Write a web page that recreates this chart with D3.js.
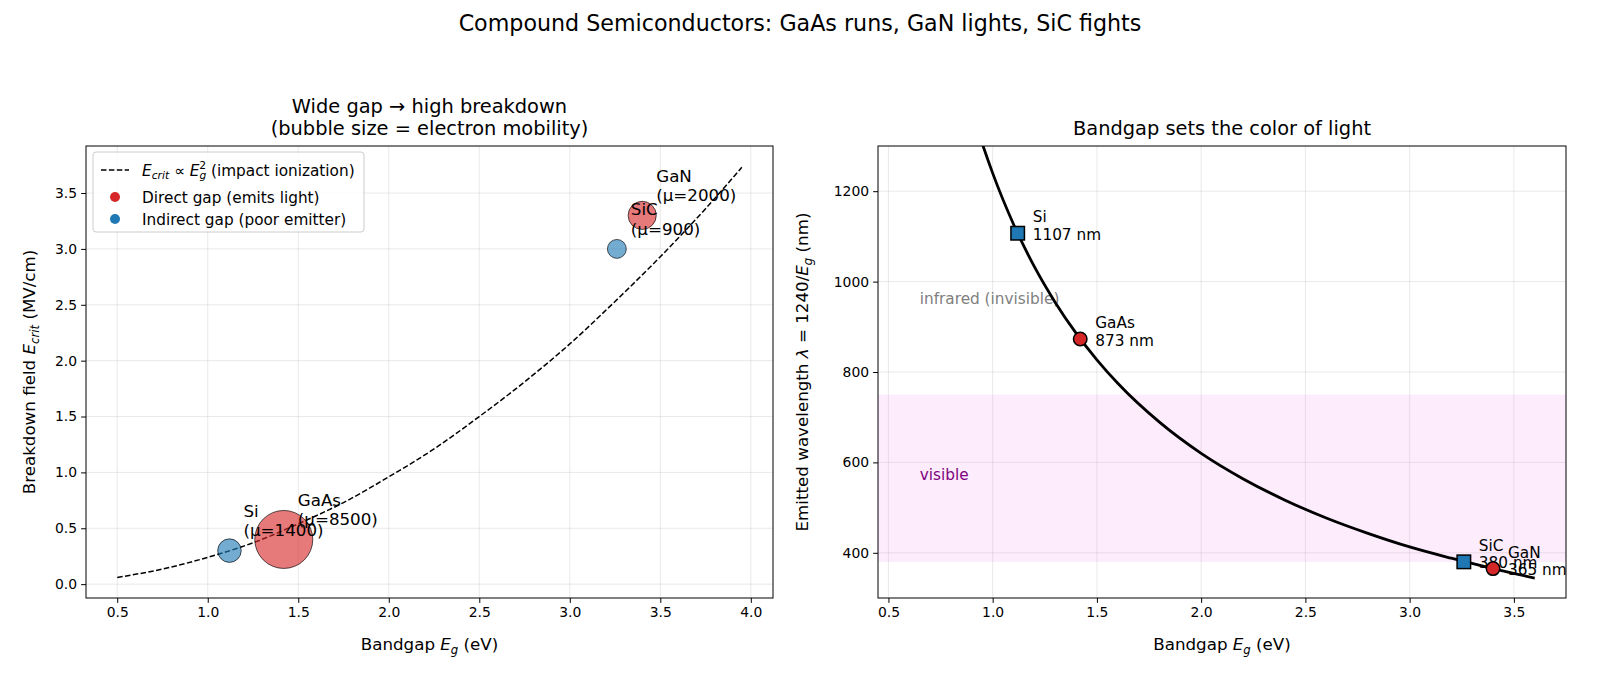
<!DOCTYPE html>
<html>
<head>
<meta charset="utf-8">
<script src="https://cdn.jsdelivr.net/npm/d3@7"></script>
<style>
  body { margin: 0; background: #fff; }
  text { font-family: "DejaVu Sans", sans-serif; fill: #000; }
</style>
</head>
<body>
<svg id="fig" width="1600" height="677"></svg>
<script>
// ---- data ----
const materials = ['Si', 'GaAs', 'SiC', 'GaN'];
const bandgap = [1.12, 1.42, 3.26, 3.40];        // eV
const breakdown = [0.3, 0.4, 3.0, 3.3];          // MV/cm
const mobility = [1400, 8500, 900, 2000];        // cm2/Vs
const isDirect = [false, true, false, true];
const wavelength = [1107, 873, 380, 365];        // nm

// dashed E_crit ~ Eg^2 trend
const trendEg = [0.5, 0.75, 1.0, 1.25, 1.5, 1.75, 2.0, 2.25, 2.5, 2.75, 3.0, 3.25, 3.5, 3.75, 3.95];
const trendE = [0.06, 0.135, 0.24, 0.37, 0.54, 0.73, 0.96, 1.21, 1.50, 1.81, 2.15, 2.53, 2.93, 3.36, 3.73];

// lambda = 1240/Eg curve
const lamEg = [0.6, 0.8, 0.9, 1.0, 1.1, 1.2, 1.3, 1.4, 1.5, 1.6, 1.8, 2.0, 2.2, 2.4, 2.6, 2.8, 3.0, 3.2, 3.4, 3.6];
const lamNm = [2067, 1550, 1378, 1240, 1127, 1033, 954, 886, 827, 775, 689, 620, 564, 517, 477, 443, 413, 388, 365, 344];

const visibleBand = [380, 750];
const xTicksLeft = [0.5, 1.0, 1.5, 2.0, 2.5, 3.0, 3.5, 4.0];
const yTicksLeft = [0.0, 0.5, 1.0, 1.5, 2.0, 2.5, 3.0, 3.5];
const xTicksRight = [0.5, 1.0, 1.5, 2.0, 2.5, 3.0, 3.5];
const yTicksRight = [400, 600, 800, 1000, 1200];

const RED = '#d62728', BLUE = '#1f77b4';
const FS_TICK = 13.9, FS_LABEL = 16.7, FS_TITLE = 19.4, FS_SMALL = 15.3;

const svg = d3.select('#fig');
svg.append('rect').attr('width', 1600).attr('height', 677).attr('fill', '#fff');

// rich text helper: italic / sub / sup pieces
function rich(sel, parts, fs) {
    let shift = 0;
    parts.forEach(p => {
        const ts = sel.append('tspan').text(p.t);
        let target = 0;
        if (p.sub) target = 0.22 * fs;
        if (p.sup) target = -0.42 * fs;
        if (target - shift !== 0) ts.attr('dy', target - shift);
        shift = target;
        if (p.sub || p.sup) ts.attr('font-size', fs * 0.7);
        if (p.i) ts.attr('font-style', 'italic');
        if (p.dx) ts.attr('dx', p.dx);
    });
}

function drawAxes(box, x, y, xt, yt, xf, yf, id) {
    const g = svg.append('g');
    // grid
    g.append('g').selectAll('line').data(xt).enter().append('line')
        .attr('x1', d => x(d)).attr('x2', d => x(d))
        .attr('y1', box.y0).attr('y2', box.y1)
        .attr('stroke', '#b0b0b0').attr('stroke-opacity', 0.35).attr('stroke-width', 0.8);
    g.append('g').selectAll('line').data(yt).enter().append('line')
        .attr('y1', d => y(d)).attr('y2', d => y(d))
        .attr('x1', box.x0).attr('x2', box.x1)
        .attr('stroke', '#b0b0b0').attr('stroke-opacity', 0.35).attr('stroke-width', 0.8);

    svg.append('clipPath').attr('id', id)
        .append('rect').attr('x', box.x0).attr('y', box.y0)
        .attr('width', box.x1 - box.x0).attr('height', box.y1 - box.y0);

    const ax = svg.append('g').attr('transform', `translate(0,${box.y1})`)
        .call(d3.axisBottom(x).tickValues(xt).tickFormat(xf).tickSize(4.9).tickPadding(4));
    const ay = svg.append('g').attr('transform', `translate(${box.x0},0)`)
        .call(d3.axisLeft(y).tickValues(yt).tickFormat(yf).tickSize(4.9).tickPadding(4));
    [ax, ay].forEach(a => {
        a.select('.domain').remove();
        a.attr('font-family', null).attr('font-size', null);
        a.selectAll('line').attr('stroke', '#000').attr('stroke-width', 1);
        a.selectAll('text').attr('font-size', FS_TICK).attr('fill', '#000');
    });
    return g;
}

function drawFrame(box) {
    svg.append('rect').attr('x', box.x0).attr('y', box.y0)
        .attr('width', box.x1 - box.x0).attr('height', box.y1 - box.y0)
        .attr('fill', 'none').attr('stroke', '#000').attr('stroke-width', 1);
}

// ---------- left panel ----------
const L = { x0: 86, x1: 773, y0: 146, y1: 598 };
const xL = d3.scaleLinear().domain([0.3275, 4.1225]).range([L.x0, L.x1]);
const yL = d3.scaleLinear().domain([-0.124, 3.921]).range([L.y1, L.y0]);
const rL = d3.scaleSqrt().domain([0, 8500]).range([0, 29]);

drawAxes(L, xL, yL, xTicksLeft, yTicksLeft, d3.format('.1f'), d3.format('.1f'), 'clipL');

const plotL = svg.append('g').attr('clip-path', 'url(#clipL)');
plotL.append('path')
    .datum(trendEg.map((e, i) => [e, trendE[i]]))
    .attr('d', d3.line().x(d => xL(d[0])).y(d => yL(d[1])).curve(d3.curveMonotoneX))
    .attr('fill', 'none').attr('stroke', '#000').attr('stroke-width', 1.5)
    .attr('stroke-dasharray', '5.5,2.4');

// labels (drawn below bubbles, as in the reference)
materials.forEach((m, i) => {
    const px = xL(bandgap[i]) + 14, py = yL(breakdown[i]);
    const t = svg.append('text').attr('font-size', FS_LABEL);
    t.append('tspan').attr('x', px).attr('y', py - 33.8).text(m);
    t.append('tspan').attr('x', px).attr('y', py - 14.4).text(`(μ=${mobility[i]})`);
});

plotL.selectAll('circle.bub').data(materials).enter().append('circle')
    .attr('class', 'bub')
    .attr('cx', (d, i) => xL(bandgap[i]))
    .attr('cy', (d, i) => yL(breakdown[i]))
    .attr('r', (d, i) => rL(mobility[i]))
    .attr('fill', (d, i) => isDirect[i] ? RED : BLUE)
    .attr('fill-opacity', 0.62)
    .attr('stroke', '#000').attr('stroke-opacity', 0.65).attr('stroke-width', 1);

drawFrame(L);

// legend
const lg = svg.append('g');
lg.append('rect').attr('x', 93).attr('y', 152).attr('width', 271).attr('height', 80)
    .attr('rx', 3).attr('fill', '#fff').attr('fill-opacity', 0.8)
    .attr('stroke', '#cccccc').attr('stroke-width', 1);
lg.append('line').attr('x1', 101).attr('x2', 129).attr('y1', 170).attr('y2', 170)
    .attr('stroke', '#000').attr('stroke-width', 1.5).attr('stroke-dasharray', '5.5,2.4');
rich(lg.append('text').attr('x', 142).attr('y', 175.5).attr('font-size', FS_SMALL), [
    { t: 'E', i: true }, { t: 'crit', i: true, sub: true }, { t: ' ∝ ' },
    { t: 'E', i: true }, { t: 'g', i: true, sub: true }, { t: '2', sup: true, dx: -7 },
    { t: ' (impact ionization)' }
], FS_SMALL);
lg.append('circle').attr('cx', 115).attr('cy', 197).attr('r', 5).attr('fill', RED);
lg.append('text').attr('x', 142).attr('y', 202.5).attr('font-size', FS_SMALL).text('Direct gap (emits light)');
lg.append('circle').attr('cx', 115).attr('cy', 219).attr('r', 5).attr('fill', BLUE);
lg.append('text').attr('x', 142).attr('y', 224.5).attr('font-size', FS_SMALL).text('Indirect gap (poor emitter)');

// titles / labels
const tl = svg.append('text').attr('text-anchor', 'middle').attr('font-size', FS_TITLE);
tl.append('tspan').attr('x', (L.x0 + L.x1) / 2).attr('y', 112.5).text('Wide gap → high breakdown');
tl.append('tspan').attr('x', (L.x0 + L.x1) / 2).attr('y', 135).text('(bubble size = electron mobility)');

rich(svg.append('text').attr('x', (L.x0 + L.x1) / 2).attr('y', 650)
    .attr('text-anchor', 'middle').attr('font-size', FS_LABEL),
    [{ t: 'Bandgap ' }, { t: 'E', i: true }, { t: 'g', i: true, sub: true }, { t: ' (eV)' }], FS_LABEL);

rich(svg.append('text').attr('transform', `translate(35,${(L.y0 + L.y1) / 2}) rotate(-90)`)
    .attr('text-anchor', 'middle').attr('font-size', FS_LABEL),
    [{ t: 'Breakdown field ' }, { t: 'E', i: true }, { t: 'crit', i: true, sub: true }, { t: ' (MV/cm)' }], FS_LABEL);

// ---------- right panel ----------
const R = { x0: 878, x1: 1566, y0: 146, y1: 598 };
const xR = d3.scaleLinear().domain([0.45, 3.75]).range([R.x0, R.x1]);
const yR = d3.scaleLinear().domain([300, 1300]).range([R.y1, R.y0]);

drawAxes(R, xR, yR, xTicksRight, yTicksRight, d3.format('.1f'), d3.format('d'), 'clipR');

const plotR = svg.append('g').attr('clip-path', 'url(#clipR)');
plotR.append('rect')
    .attr('x', R.x0).attr('width', R.x1 - R.x0)
    .attr('y', yR(visibleBand[1])).attr('height', yR(visibleBand[0]) - yR(visibleBand[1]))
    .attr('fill', '#ee82ee').attr('fill-opacity', 0.15);

plotR.append('text').attr('x', xR(0.65)).attr('y', yR(950))
    .attr('font-size', FS_SMALL).style('fill', '#808080').text('infrared (invisible)');
plotR.append('text').attr('x', xR(0.65)).attr('y', yR(560))
    .attr('font-size', FS_SMALL).style('fill', '#800080').text('visible');

plotR.append('path')
    .datum(lamEg.map((e, i) => [e, lamNm[i]]))
    .attr('d', d3.line().x(d => xR(d[0])).y(d => yR(d[1])).curve(d3.curveMonotoneX))
    .attr('fill', 'none').attr('stroke', '#000').attr('stroke-width', 2.8);

materials.forEach((m, i) => {
    const px = xR(bandgap[i]) + 15, py = yR(wavelength[i]);
    const t = plotR.append('text').attr('font-size', FS_SMALL);
    t.append('tspan').attr('x', px).attr('y', py - 11).text(m);
    t.append('tspan').attr('x', px).attr('y', py + 6.5).text(`${wavelength[i]} nm`);
});

const sq = 13.5;
materials.forEach((m, i) => {
    const cx = xR(bandgap[i]), cy = yR(wavelength[i]);
    if (isDirect[i]) {
        plotR.append('circle').attr('cx', cx).attr('cy', cy).attr('r', sq / 2)
            .attr('fill', RED).attr('stroke', '#000').attr('stroke-width', 1.5);
    } else {
        plotR.append('rect').attr('x', cx - sq / 2).attr('y', cy - sq / 2)
            .attr('width', sq).attr('height', sq)
            .attr('fill', BLUE).attr('stroke', '#000').attr('stroke-width', 1.5);
    }
});

drawFrame(R);

svg.append('text').attr('x', (R.x0 + R.x1) / 2).attr('y', 135)
    .attr('text-anchor', 'middle').attr('font-size', FS_TITLE).text('Bandgap sets the color of light');

rich(svg.append('text').attr('x', (R.x0 + R.x1) / 2).attr('y', 650)
    .attr('text-anchor', 'middle').attr('font-size', FS_LABEL),
    [{ t: 'Bandgap ' }, { t: 'E', i: true }, { t: 'g', i: true, sub: true }, { t: ' (eV)' }], FS_LABEL);

rich(svg.append('text').attr('transform', `translate(808,${(R.y0 + R.y1) / 2}) rotate(-90)`)
    .attr('text-anchor', 'middle').attr('font-size', FS_LABEL),
    [{ t: 'Emitted wavelength ' }, { t: 'λ', i: true }, { t: ' = 1240/' }, { t: 'E', i: true },
     { t: 'g', i: true, sub: true }, { t: ' (nm)' }], FS_LABEL);

// suptitle
svg.append('text').attr('x', 800).attr('y', 30.5).attr('text-anchor', 'middle')
    .attr('font-size', 22.2).text('Compound Semiconductors: GaAs runs, GaN lights, SiC fights');
</script>
</body>
</html>
